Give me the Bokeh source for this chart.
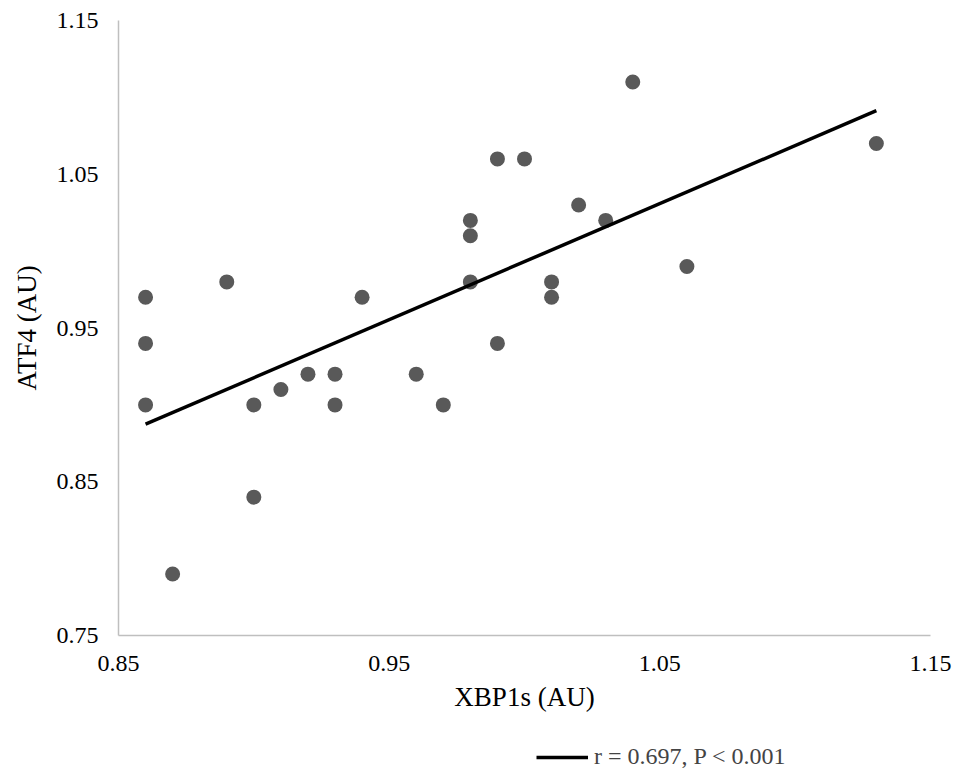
import numpy as np
from bokeh.plotting import figure
from bokeh.layouts import column
from bokeh.models import Range1d, FixedTicker, Legend, LegendItem
from bokeh.embed import file_html
from bokeh.resources import INLINE

xbp1s = [0.86, 0.86, 0.86, 0.87, 0.89, 0.90, 0.90, 0.91, 0.92, 0.93, 0.93, 0.94, 0.96, 0.97,
         0.98, 0.98, 0.98, 0.99, 0.99, 1.00, 1.01, 1.01, 1.02, 1.03, 1.04, 1.06, 1.13]
atf4 = [0.97, 0.94, 0.90, 0.79, 0.98, 0.90, 0.84, 0.91, 0.92, 0.92, 0.90, 0.97, 0.92, 0.90,
        1.02, 1.01, 0.98, 1.06, 0.94, 1.06, 0.98, 0.97, 1.03, 1.02, 1.11, 0.99, 1.07]
x_ticks = [0.85, 0.95, 1.05, 1.15]
y_ticks = [0.75, 0.85, 0.95, 1.05, 1.15]
legend_label = "r = 0.697, P < 0.001"
x_title = "XBP1s (AU)"
y_title = "ATF4 (AU)"

FONT = "Liberation Serif"

slope, intercept = np.polyfit(xbp1s, atf4, 1)
fit_x = [min(xbp1s), max(xbp1s)]
fit_y = [slope * v + intercept for v in fit_x]

p = figure(frame_width=812, frame_height=615, output_backend="svg", toolbar_location=None,
           x_range=Range1d(0.85, 1.15), y_range=Range1d(0.75, 1.15),
           min_border_left=118, min_border_right=26, min_border_top=20, min_border_bottom=95)
p.outline_line_color = None
p.background_fill_color = "white"
p.border_fill_color = "white"
p.xgrid.visible = False
p.ygrid.visible = False

p.scatter(xbp1s, atf4, size=15, fill_color="#595959", line_color=None)
p.line(fit_x, fit_y, line_color="black", line_width=3.5)

for ax, ticks in ((p.xaxis[0], x_ticks), (p.yaxis[0], y_ticks)):
    ax.ticker = FixedTicker(ticks=ticks)
    ax.major_tick_line_color = None
    ax.minor_tick_line_color = None
    ax.major_tick_out = 0
    ax.major_tick_in = 0
    ax.axis_line_color = "#bfbfbf"
    ax.axis_line_width = 1.5
    ax.major_label_text_font = FONT
    ax.major_label_text_font_size = "24px"
    ax.major_label_text_color = "black"
    ax.axis_label_text_font = FONT
    ax.axis_label_text_font_size = "27px"
    ax.axis_label_text_font_style = "normal"
    ax.axis_label_text_color = "black"

p.xaxis.axis_label = x_title
p.yaxis.axis_label = y_title
p.xaxis.major_label_standoff = 20
p.yaxis.major_label_standoff = 20
p.xaxis.axis_label_standoff = 8
p.yaxis.axis_label_standoff = 12

# legend strip below the chart
leg_fig = figure(width=956, height=50, output_backend="svg", toolbar_location=None,
                 x_range=Range1d(10, 11), y_range=Range1d(0, 1),
                 x_axis_location=None, y_axis_location=None,
                 min_border_left=0, min_border_right=0, min_border_top=0, min_border_bottom=0)
leg_fig.outline_line_color = None
leg_fig.xgrid.visible = False
leg_fig.ygrid.visible = False
leg_r = leg_fig.line(fit_x, fit_y, line_color="black", line_width=3.5)

legend = Legend(items=[LegendItem(label=legend_label, renderers=[leg_r])],
                orientation="horizontal", location=(418, 10),
                border_line_color=None, background_fill_alpha=0,
                label_text_font=FONT, label_text_font_size="24px",
                glyph_width=52, label_standoff=6, padding=0, margin=0, spacing=0)
leg_fig.add_layout(legend, "center")

layout = column(p, leg_fig, spacing=0)
open("out.html", "w").write(file_html(layout, INLINE))
